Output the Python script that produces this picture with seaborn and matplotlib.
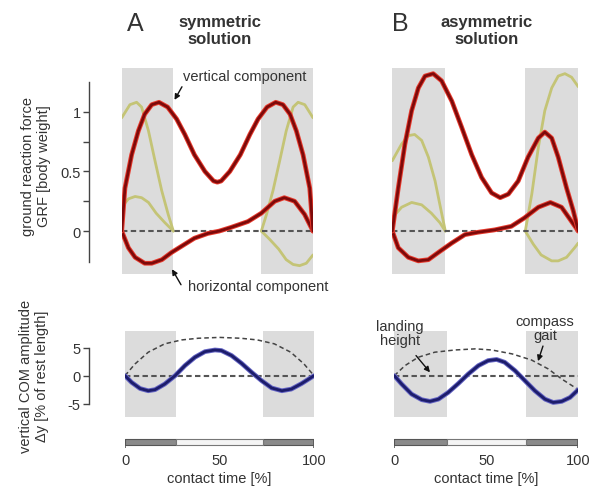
import matplotlib
matplotlib.use("Agg")
import matplotlib.pyplot as plt
import matplotlib.patheffects as pe
import seaborn as sns

sns.set_theme(style="white")
plt.rcParams["font.family"] = ["Liberation Sans", "DejaVu Sans"]

TEXT = "#333333"
BAND = "#dcdcdc"
RED_CORE = "#7d0a0a"
RED_EDGE = "#e8392c"
OLIVE = "#c4c476"
NAVY = "#1d1d6b"
NAVY_EDGE = "#6464c4"
DASH = "#555555"

# stance (double support) phases in % contact time
bands_A = [(0, 27), (73, 100)]
bands_B = [(0, 28.5), (71.5, 100)]

# --- A: symmetric solution, GRF ---
a_vert_x = [0, 1.7, 5.2, 8.7, 12, 15.7, 19.5, 24, 28.7, 33, 38, 43.5, 48, 50,
            52, 56.5, 62, 67, 71.3, 76, 80.5, 84.3, 88, 91.3, 94.8, 98.3, 100]
a_vert_y = [0, 0.36, 0.64, 0.84, 0.98, 1.06, 1.08, 1.04, 0.94, 0.81, 0.64, 0.50, 0.42, 0.41,
            0.42, 0.50, 0.64, 0.81, 0.94, 1.04, 1.08, 1.06, 0.98, 0.84, 0.64, 0.36, 0]
a_horz_x = [0, 3.5, 7, 12, 15.7, 21, 26, 31, 38, 45, 51, 57, 66, 73, 80, 85, 90.4, 95.6, 100]
a_horz_y = [0, -0.14, -0.22, -0.27, -0.27, -0.24, -0.18, -0.13, -0.06, -0.02, 0, 0.03,
            0.08, 0.15, 0.25, 0.28, 0.25, 0.14, 0]
a_ov1_x = [0, 4.3, 7.8, 10.4, 14, 17.4, 20.9, 24.3, 27]
a_ov1_y = [0.95, 1.06, 1.08, 1.04, 0.84, 0.59, 0.34, 0.14, 0]
a_oh1_x = [0, 3.5, 7, 10.4, 14, 18, 22.6, 27]
a_oh1_y = [0.20, 0.27, 0.29, 0.28, 0.24, 0.15, 0.07, 0]
a_ov2_x = [73, 75.7, 79.1, 82.6, 86, 89.6, 92.2, 95.7, 100]
a_ov2_y = [0, 0.14, 0.34, 0.59, 0.84, 1.04, 1.08, 1.06, 0.95]
a_oh2_x = [73, 77.4, 82, 86, 89.6, 93, 96.5, 100]
a_oh2_y = [0, -0.07, -0.15, -0.24, -0.28, -0.29, -0.27, -0.20]

# --- B: asymmetric solution, GRF ---
b_vert_x = [0, 3.2, 6.8, 10.4, 14, 17.6, 22, 26.5, 32, 37.3, 42.7, 48, 53.4, 58, 62.4,
            67.7, 73, 78.5, 82, 85.7, 89.2, 93.7, 97.3, 100]
b_vert_y = [0, 0.36, 0.73, 1.01, 1.20, 1.30, 1.32, 1.26, 1.09, 0.87, 0.64, 0.45, 0.32,
            0.28, 0.31, 0.42, 0.62, 0.78, 0.83, 0.78, 0.62, 0.36, 0.17, 0]
b_horz_x = [0, 3.2, 8.6, 14, 19.4, 24.7, 32, 39, 46, 55, 64, 71, 78.5, 85, 91, 96.4, 100]
b_horz_y = [0, -0.14, -0.22, -0.25, -0.24, -0.18, -0.10, -0.03, -0.01, 0.01, 0.04, 0.11,
            0.20, 0.24, 0.20, 0.08, 0]
b_ov1_x = [0, 5, 8.6, 12, 15.8, 19.4, 23, 25.6, 28.5]
b_ov1_y = [0.59, 0.73, 0.80, 0.81, 0.76, 0.62, 0.42, 0.22, 0]
b_oh1_x = [0, 5, 10.4, 15.8, 21, 25.6, 28.5]
b_oh1_y = [0.11, 0.20, 0.24, 0.22, 0.15, 0.07, 0]
b_ov2_x = [71.5, 75, 78.5, 82, 85.7, 89.2, 92.8, 96.4, 100]
b_ov2_y = [0, 0.31, 0.70, 1.01, 1.20, 1.30, 1.32, 1.29, 1.21]
b_oh2_x = [71.5, 75.8, 80, 85.7, 89.2, 93.7, 98, 100]
b_oh2_y = [0, -0.11, -0.20, -0.25, -0.25, -0.22, -0.14, -0.10]

# --- vertical COM amplitude ---
a_com_x = [0, 3.5, 8, 12.3, 15.9, 21, 26.5, 31.7, 37, 42.3, 47.6, 51, 56.4, 61.7, 67,
           72.3, 77.6, 83, 88, 93.5, 100]
a_com_y = [0, -1.2, -2.3, -2.7, -2.5, -1.5, 0, 1.8, 3.3, 4.3, 4.6, 4.5, 3.6, 2.2, 0.6,
           -0.9, -2.2, -2.7, -2.4, -1.4, 0]
a_arc_x = [0, 5.3, 12.3, 21, 30, 38.8, 50, 61.2, 70, 79, 87.7, 94.7, 100]
a_arc_y = [0, 2.1, 4.2, 5.7, 6.4, 6.7, 6.85, 6.7, 6.4, 5.7, 4.2, 2.1, 0]
b_com_x = [0, 4, 9.4, 14.9, 19.4, 24, 29.3, 34.8, 40.2, 45.7, 51, 55.6, 60, 65.6, 71,
           76.4, 81.9, 86.4, 91, 95.5, 100]
b_com_y = [0, -1.5, -3.3, -4.3, -4.6, -4.2, -3.0, -1.4, 0.3, 1.8, 2.7, 2.9, 2.4, 0.9,
           -0.9, -2.7, -4.2, -4.8, -4.6, -3.9, -2.5]
b_arc_x = [0, 5.8, 13, 22, 33, 44, 53, 64, 74.6, 83.7, 91, 100]
b_arc_y = [0, 1.8, 3.3, 4.2, 4.6, 4.8, 4.6, 3.9, 2.8, 1.2, -0.6, -2.5]


def draw(ax, x, y, color, lw, edge=None, z=3, **kw):
    if edge:
        kw["path_effects"] = [pe.Stroke(linewidth=lw + 1.4, foreground=edge), pe.Normal()]
    sns.lineplot(x=x, y=y, ax=ax, color=color, lw=lw, estimator=None, sort=False,
                 zorder=z, solid_capstyle="round", solid_joinstyle="round", **kw)


def base(ax, bands, ylim):
    for s, e in bands:
        ax.axvspan(s, e, color=BAND, lw=0, zorder=0)
    ax.set_xlim(0, 100)
    ax.set_ylim(*ylim)
    ax.set_xticks([])
    ax.set_facecolor("none")
    for sp in ax.spines.values():
        sp.set_visible(False)


def left_axis(ax, offset, bounds, ticks, labels, minor=()):
    sp = ax.spines["left"]
    sp.set_visible(True)
    sp.set_position(("outward", offset))
    sp.set_bounds(*bounds)
    sp.set_color("#444444")
    sp.set_linewidth(1.0)
    ax.set_yticks(ticks, labels)
    ax.set_yticks(list(minor), minor=True)
    ax.tick_params(axis="y", which="both", left=True, direction="out", length=4,
                   width=1.0, color="#444444", labelsize=10.5, labelcolor=TEXT, pad=2)


def phase_bar(ax, bands):
    dark = [(s, e - s) for s, e in bands]
    light = (bands[0][1], bands[1][0] - bands[0][1])
    ax.broken_barh(dark, (0.33, 0.5), facecolor="#8a8a8a", edgecolor="#555555", lw=0.8)
    ax.broken_barh([light], (0.33, 0.5), facecolor="#f4f4f4", edgecolor="#777777", lw=0.8)
    ax.vlines([bands[0][0], bands[-1][1]], 0.1, 0.83, color="#555555", lw=1.2)
    ax.set_xlim(0, 100)
    ax.set_ylim(0, 1)
    ax.set_yticks([])
    ax.set_xticks([0, 50, 100], ["0", "50", "100"])
    ax.tick_params(axis="x", length=0, labelsize=10.5, labelcolor=TEXT, pad=3)
    ax.set_xlabel("contact time [%]", fontsize=10.5, color=TEXT, labelpad=2.5)
    ax.set_facecolor("none")
    for sp in ax.spines.values():
        sp.set_visible(False)


def arrow(ax, head, tail):
    ax.annotate("", xy=head, xytext=tail,
                arrowprops=dict(arrowstyle="-|>", color="#111111", lw=1.0,
                                mutation_scale=8, shrinkA=0, shrinkB=0))


fig = plt.figure(figsize=(5.96, 4.89), dpi=100)
W, H = 596, 489


def px_axes(x0, x1, y0, y1):
    return fig.add_axes([x0 / W, 1 - y1 / H, (x1 - x0) / W, (y1 - y0) / H])


ax_a = px_axes(121.7, 313, 68.7, 275)
ax_b = px_axes(392.3, 578.3, 68.7, 275)
ax_c = px_axes(125, 314, 331.7, 418.3)
ax_d = px_axes(394.3, 578.3, 331.7, 418.3)
ax_e = px_axes(125, 314, 438, 450)
ax_f = px_axes(394.3, 578.3, 438, 450)

grf_lim = (-0.36, 1.37)
com_lim = (-7.45, 8.05)

for ax, bands, ov1, oh1, ov2, oh2, vert, horz in [
    (ax_a, bands_A, (a_ov1_x, a_ov1_y), (a_oh1_x, a_oh1_y), (a_ov2_x, a_ov2_y),
     (a_oh2_x, a_oh2_y), (a_vert_x, a_vert_y), (a_horz_x, a_horz_y)),
    (ax_b, bands_B, (b_ov1_x, b_ov1_y), (b_oh1_x, b_oh1_y), (b_ov2_x, b_ov2_y),
     (b_oh2_x, b_oh2_y), (b_vert_x, b_vert_y), (b_horz_x, b_horz_y)),
]:
    base(ax, bands, grf_lim)
    for xs, ys in (ov1, oh1, ov2, oh2):
        draw(ax, xs, ys, OLIVE, 2.0, z=2)
    ax.axhline(0, color=DASH, lw=1.5, dashes=(2.6, 1.6), zorder=3)
    draw(ax, *horz, RED_CORE, 2.0, edge=RED_EDGE, z=4)
    draw(ax, *vert, RED_CORE, 2.0, edge=RED_EDGE, z=4)
    ax.set_yticks([])

for ax, bands, com, arc in [
    (ax_c, bands_A, (a_com_x, a_com_y), (a_arc_x, a_arc_y)),
    (ax_d, bands_B, (b_com_x, b_com_y), (b_arc_x, b_arc_y)),
]:
    base(ax, bands, com_lim)
    ax.axhline(0, color=DASH, lw=1.5, dashes=(2.6, 1.6), zorder=3)
    draw(ax, *arc, "#444444", 1.1, z=3, dashes=(3.0, 2.0))
    draw(ax, *com, NAVY, 2.0, edge=NAVY_EDGE, z=4)
    ax.set_yticks([])

left_axis(ax_a, 23.5, (-0.26, 1.25), [0, 0.5, 1], ["0", "0.5", "1"], minor=(0.25, 0.75))
left_axis(ax_c, 26, (-5, 5), [-5, 0, 5], ["-5", "0", "5"])
phase_bar(ax_e, bands_A)
phase_bar(ax_f, bands_B)

# annotations
txt = dict(fontsize=10.5, color=TEXT)
ax_a.text(32, 1.30, "vertical component", ha="left", va="center", **txt)
arrow(ax_a, (27.6, 1.10), (31.5, 1.21))
ax_a.text(34.7, -0.46, "horizontal component", ha="left", va="center", **txt)
arrow(ax_a, (26.3, -0.32), (31, -0.45))
ax_d.text(3, 7.7, "landing\nheight", ha="center", va="center", linespacing=1.0, **txt)
arrow(ax_d, (19.4, 0.6), (11.8, 3.6))
ax_d.text(82, 8.6, "compass\ngait", ha="center", va="center", linespacing=1.0, **txt)
arrow(ax_d, (78.1, 2.6), (80.8, 5.3))

# panel titles and axis labels
fig.text(135 / W, 1 - 24 / H, "A", fontsize=18, ha="center", va="center", color=TEXT)
fig.text(220 / W, 1 - 31 / H, "symmetric\nsolution", fontsize=12, fontweight="bold",
         ha="center", va="center", color=TEXT, linespacing=1.15)
fig.text(400 / W, 1 - 24 / H, "B", fontsize=18, ha="center", va="center", color=TEXT)
fig.text(487 / W, 1 - 31 / H, "asymmetric\nsolution", fontsize=12, fontweight="bold",
         ha="center", va="center", color=TEXT, linespacing=1.15)
fig.text(36 / W, 1 - 166 / H, "ground reaction force\nGRF [body weight]", rotation=90,
         fontsize=10.5, ha="center", va="center", color=TEXT, multialignment="center")
fig.text(34 / W, 1 - 376 / H, "vertical COM amplitude\nΔy [% of rest length]", rotation=90,
         fontsize=10.5, ha="center", va="center", color=TEXT, multialignment="center")

fig.savefig("out.png", dpi=100, facecolor="white")
